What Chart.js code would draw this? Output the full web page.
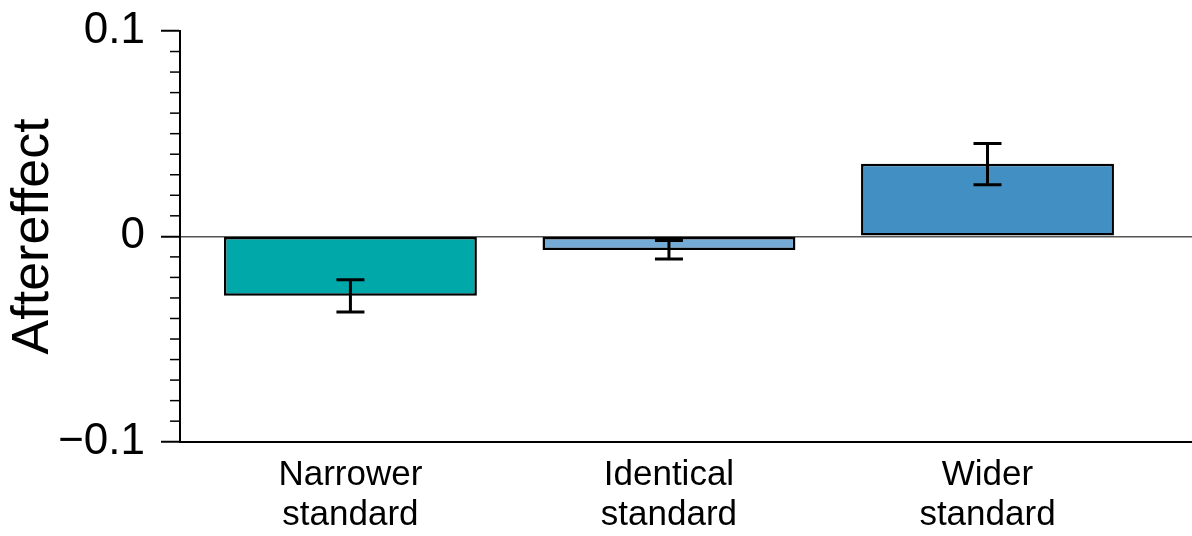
<!DOCTYPE html>
<html>
<head>
<meta charset="utf-8">
<script src="https://cdn.jsdelivr.net/npm/chart.js@4"></script>
<style>
  html, body { margin: 0; padding: 0; background: #fff; }
  #wrap { width: 1192px; height: 536px; }
</style>
</head>
<body>
<div id="wrap"><canvas id="chart"></canvas></div>
<script>
// Chart data
const categories = [['Narrower', 'standard'], ['Identical', 'standard'], ['Wider', 'standard']];
const positions = [0, 1, 2];
const aftereffect = [-0.0289, -0.0066, 0.0353];
const errLow = [-0.0369, -0.0110, 0.0251];
const errHigh = [-0.0211, -0.0020, 0.0452];
const barColors = ['#00a8aa', '#74aad6', '#4290c3'];
const yTicks = [-0.1, 0, 0.1];
const yTickLabels = ['\u22120.1', '0', '0.1'];

const FONT = "'Liberation Sans', Arial, Helvetica, sans-serif";

// Error bars drawn on top of the bars
const errorBarPlugin = {
  id: 'errorBars',
  afterDatasetsDraw: (chart) => {
    const ctx = chart.ctx;
    const yScale = chart.scales.y;
    const meta = chart.getDatasetMeta(0);
    const capHalf = 14;

    ctx.save();
    ctx.strokeStyle = '#000';
    ctx.lineWidth = 3;
    meta.data.forEach((bar, i) => {
      const yLo = yScale.getPixelForValue(errLow[i]);
      const yHi = yScale.getPixelForValue(errHigh[i]);
      ctx.beginPath();
      ctx.moveTo(bar.x, yLo);
      ctx.lineTo(bar.x, yHi);
      ctx.moveTo(bar.x - capHalf, yLo);
      ctx.lineTo(bar.x + capHalf, yLo);
      ctx.moveTo(bar.x - capHalf, yHi);
      ctx.lineTo(bar.x + capHalf, yHi);
      ctx.stroke();
    });
    ctx.restore();
  }
};

// Minor ticks on the y axis every 0.01
const minorTickPlugin = {
  id: 'minorTicks',
  afterDraw: (chart) => {
    const ctx = chart.ctx;
    const yScale = chart.scales.y;
    const left = chart.chartArea.left;

    ctx.save();
    ctx.strokeStyle = '#000';
    ctx.lineWidth = 1.5;
    for (let k = -10; k <= 10; k++) {
      if (k % 10 === 0) continue; // major ticks handled by the axis
      const y = yScale.getPixelForValue(k / 100);
      ctx.beginPath();
      ctx.moveTo(left - 10, y);
      ctx.lineTo(left, y);
      ctx.stroke();
    }
    ctx.restore();
  }
};

new Chart(document.getElementById('chart'), {
  type: 'bar',
  data: {
    datasets: [{
      data: positions.map((x, i) => ({ x: x, y: aftereffect[i] })),
      backgroundColor: barColors,
      borderColor: '#000',
      borderWidth: 2.5,
      borderSkipped: false,
      barPercentage: 0.794,
      categoryPercentage: 1.0
    }]
  },
  options: {
    responsive: true,
    maintainAspectRatio: false,
    animation: false,
    layout: { padding: { top: 31, right: 0, bottom: 0, left: 0 } },
    plugins: {
      legend: { display: false },
      tooltip: { enabled: false }
    },
    scales: {
      x: {
        type: 'linear',
        offset: false,
        min: -0.535,
        max: 2.642,
        afterBuildTicks: (scale) => {
          scale.ticks = positions.map(v => ({ value: v }));
        },
        afterFit: (scale) => { scale.height = 94.3; },
        grid: { display: false, drawTicks: false, offset: false },
        border: { display: true, color: '#000', width: 2 },
        ticks: {
          autoSkip: false,
          maxRotation: 0,
          padding: 14,
          color: '#000',
          font: { family: FONT, size: 35, lineHeight: 1.13 },
          callback: (value) => categories[value]
        }
      },
      y: {
        min: -0.1,
        max: 0.1,
        afterBuildTicks: (scale) => {
          scale.ticks = yTicks.map(v => ({ value: v }));
        },
        afterFit: (scale) => { scale.width = 180; },
        grid: {
          color: (ctx) => (ctx.tick && ctx.tick.value === 0 ? '#555' : 'rgba(0,0,0,0)'),
          lineWidth: 1.5,
          tickColor: '#000',
          tickLength: 19,
          tickWidth: 2
        },
        border: { display: true, color: '#000', width: 2 },
        ticks: {
          padding: 16,
          color: '#000',
          font: { family: FONT, size: 44, lineHeight: 0.5 },
          callback: (value) => yTickLabels[yTicks.indexOf(value)]
        },
        title: {
          display: true,
          text: 'Aftereffect',
          color: '#000',
          font: { family: FONT, size: 52, lineHeight: 1 },
          padding: { top: 8, bottom: 0 }
        }
      }
    }
  },
  plugins: [errorBarPlugin, minorTickPlugin]
});
</script>
</body>
</html>
